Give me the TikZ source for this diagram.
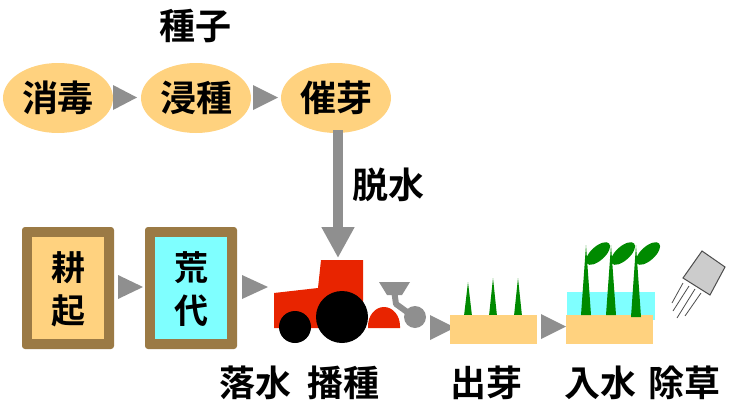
\documentclass[tikz,border=0pt]{standalone}
\usepackage{fontspec}
\newfontfamily\jp{Noto Sans CJK JP Bold}
\usetikzlibrary{arrows.meta}
\definecolor{seedorange}{HTML}{FFD27F}
\definecolor{flowgray}{HTML}{8F8F8F}
\definecolor{framebrown}{HTML}{9B7A45}
\definecolor{watercyan}{HTML}{7FFFFF}
\definecolor{tractorred}{HTML}{E82400}
\definecolor{leafgreen}{HTML}{008A00}
\tikzset{
  lbl/.style={font=\jp\fontsize{36}{38}\selectfont, inner sep=0pt},
  boxchar/.style={font=\jp\fontsize{34}{36}\selectfont, inner sep=0pt},
  seedstep/.style={ellipse, fill=seedorange, minimum width=110pt, minimum height=70pt, inner sep=0pt,
    font=\jp\fontsize{36}{38}\selectfont},
  flowtri/.style={fill=flowgray},
  framebox/.style={fill=framebrown, rounded corners=3pt},
  sprout/.style={fill=leafgreen},
}
\usetikzlibrary{shapes.geometric}
\begin{document}
\begin{tikzpicture}[x=1pt,y=-1pt]
\useasboundingbox (0,0) rectangle (732,407);

% seed preparation
\node[lbl] (seed) at (195,26) {種子};
\node[seedstep] (e1) at (58,98) {消毒};
\node[seedstep] (e2) at (196,98) {浸種};
\node[seedstep] (e3) at (336,98) {催芽};
\fill[flowtri] (113,85) -- (137,97.5) -- (113,110) -- cycle;
\fill[flowtri] (253,85) -- (278,97.5) -- (253,110) -- cycle;

% dehydration arrow down to the seeder
\coordinate (sowtip) at (338,258);
\draw[flowgray, line width=10pt, -{Triangle[width=31pt,length=31pt]}] (338,130) -- (sowtip);
\node[lbl, anchor=west] (dry) at (352,185) {脱水};

% field preparation boxes
\fill[framebox] (22,227) rectangle (114,349);
\fill[seedorange] (32,237) rectangle (104,339);
\node[boxchar] (b1a) at (68,268) {耕};
\node[boxchar] (b1b) at (68,311) {起};
\fill[framebox] (145,227) rectangle (237,349);
\fill[watercyan] (155,237) rectangle (227,339);
\node[boxchar] (b2a) at (191,268) {荒};
\node[boxchar] (b2b) at (191,311) {代};
\fill[flowtri] (118,275) -- (143,287) -- (118,299) -- cycle;
\fill[flowtri] (242,275) -- (268,287) -- (242,299) -- cycle;

% tractor with seeder
\fill[tractorred] (274,293) -- (318,288) -- (321,260) -- (363,260) -- (363,328) -- (274,328) -- cycle;
\fill[black] (295,327) circle (16pt);
\fill[black] (342,317) circle (26pt);
\fill[tractorred] (368,328) -- (368,326) arc[start angle=180, end angle=0, x radius=16pt, y radius=19pt] -- (400,328) -- cycle;
\draw[flowgray, line width=6pt, line join=round] (394,290) -- (396,304) -- (414,317);
\fill[flowgray] (379,282) -- (410,282) -- (402,295) -- (387,295) -- cycle;
\fill[flowgray] (415,317) circle (11pt);
\fill[flowtri] (430,315) -- (455,327.5) -- (430,340) -- cycle;

% emergence
\foreach \x/\t in {468/282, 493/278, 518/278}
  \fill[sprout] (\x-4,316) -- (\x,\t) -- (\x+4,316) -- cycle;
\fill[seedorange] (450,315) rectangle (537,344);
\fill[flowtri] (541,314) -- (566,326.5) -- (541,339) -- cycle;

% flooding
\fill[watercyan] (567,292) rectangle (655,320);
\fill[seedorange] (566,315) rectangle (653,344);
\foreach \x/\b in {586/315, 611/315, 636/317}{
  \fill[sprout] (\x-5,\b) -- (\x,245) -- (\x+5,\b) -- cycle;
  \fill[sprout] (\x+12,253.5) ellipse[x radius=15pt, y radius=7pt, rotate=42];
}

% weeding: herbicide spray
\draw[fill=black!20, draw=black!70, line width=1pt] (702,251) -- (725,267) -- (710,295) -- (683,278) -- cycle;
\draw[black!70, line width=0.8pt]
  (683,283) -- (672,303)
  (689,286) -- (673,311)
  (695,289) -- (677,318)
  (701,293) -- (685,316);

% stage labels
\node[lbl] (l1) at (255,383) {落水};
\node[lbl] (l2) at (343,383) {播種};
\node[lbl] (l3) at (486,383) {出芽};
\node[lbl] (l4) at (600,383) {入水};
\node[lbl] (l5) at (684,383) {除草};
\end{tikzpicture}
\end{document}
